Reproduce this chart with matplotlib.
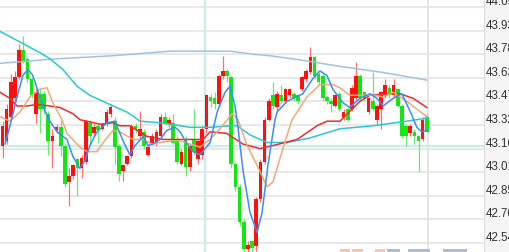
import matplotlib
matplotlib.use("Agg")
import matplotlib.pyplot as plt
import matplotlib.transforms as mtrans
from matplotlib.patches import Rectangle

# candle data (price)
opens = [43.18, 43.21, 43.37, 43.49, 43.63, 43.81, 43.75, 43.62, 43.39, 43.52,
         43.52, 43.39, 43.21, 43.28, 43.30, 43.18, 42.94, 42.98, 43.09, 43.03,
         43.07, 43.33, 43.26, 43.31, 43.29, 43.32, 43.39, 43.34, 43.18, 43.01,
         43.06, 43.11, 43.31, 43.24, 43.27, 43.12, 43.20, 43.20, 43.24, 43.37,
         43.32, 43.33, 43.22, 43.06, 43.22, 43.04, 43.22, 43.09, 43.12, 43.29,
         43.50, 43.49, 43.45, 43.64, 43.67, 43.63, 43.06, 42.91, 42.68, 42.50,
         42.55, 42.52, 42.83, 43.07, 43.35, 43.51, 43.43, 43.51, 43.47, 43.51,
         43.52, 43.51, 43.55, 43.62, 43.66, 43.76, 43.65, 43.64, 43.50, 43.47,
         43.44, 43.52, 43.37, 43.42, 43.42, 43.49, 43.64, 43.53, 43.40, 43.47,
         43.35, 43.42, 43.51, 43.56, 43.51, 43.55, 43.44, 43.31, 43.26, 43.27,
         43.24, 43.22, 43.37]
closes = [43.31, 43.42, 43.60, 43.63, 43.81, 43.73, 43.62, 43.51, 43.53, 43.42,
          43.42, 43.21, 43.24, 43.30, 43.18, 42.93, 42.98, 43.05, 43.03, 43.10,
          43.34, 43.24, 43.30, 43.28, 43.32, 43.40, 43.43, 43.17, 42.99, 43.05,
          43.11, 43.31, 43.28, 43.29, 43.18, 43.17, 43.24, 43.27, 43.37, 43.33,
          43.35, 43.20, 43.07, 43.14, 43.04, 43.18, 43.14, 43.21, 43.29, 43.51,
          43.47, 43.45, 43.64, 43.67, 43.64, 43.06, 42.91, 42.68, 42.50, 42.53,
          42.51, 42.83, 43.07, 43.35, 43.47, 43.44, 43.52, 43.47, 43.55, 43.55,
          43.49, 43.47, 43.63, 43.67, 43.76, 43.64, 43.60, 43.49, 43.47, 43.45,
          43.51, 43.42, 43.40, 43.35, 43.56, 43.64, 43.49, 43.49, 43.49, 43.42,
          43.44, 43.53, 43.58, 43.51, 43.58, 43.44, 43.24, 43.24, 43.31, 43.24,
          43.21, 43.35, 43.27]
highs = [43.34, 43.45, 43.65, 43.67, 43.85, 43.90, 43.76, 43.63, 43.56, 43.55,
         43.54, 43.41, 43.29, 43.32, 43.35, 43.19, 43.03, 43.06, 43.10, 43.12,
         43.35, 43.35, 43.32, 43.33, 43.33, 43.42, 43.45, 43.37, 43.19, 43.06,
         43.12, 43.32, 43.33, 43.41, 43.29, 43.19, 43.26, 43.29, 43.39, 43.40,
         43.37, 43.39, 43.24, 43.16, 43.24, 43.19, 43.42, 43.22, 43.31, 43.52,
         43.52, 43.53, 43.65, 43.77, 43.68, 43.64, 43.07, 42.93, 42.70, 42.55,
         42.56, 42.84, 43.09, 43.37, 43.49, 43.60, 43.54, 43.58, 43.56, 43.56,
         43.53, 43.52, 43.64, 43.68, 43.83, 43.77, 43.66, 43.65, 43.51, 43.49,
         43.52, 43.53, 43.42, 43.43, 43.58, 43.73, 43.65, 43.54, 43.50, 43.66,
         43.45, 43.54, 43.62, 43.58, 43.62, 43.56, 43.45, 43.32, 43.32, 43.29,
         43.25, 43.37, 43.39]
lows = [43.10, 43.19, 43.35, 43.45, 43.62, 43.72, 43.60, 43.49, 43.33, 43.26,
        43.39, 43.12, 43.03, 43.26, 43.11, 42.91, 42.78, 42.96, 42.85, 42.97,
        43.06, 43.19, 43.24, 43.20, 43.28, 43.31, 43.37, 43.06, 42.95, 42.95,
        43.05, 43.10, 43.26, 43.22, 43.16, 43.11, 43.19, 43.18, 43.23, 43.32,
        43.30, 43.19, 43.06, 43.05, 42.98, 43.01, 43.12, 43.06, 43.09, 43.26,
        43.43, 43.42, 43.43, 43.62, 43.60, 43.03, 42.88, 42.65, 42.48, 42.48,
        42.48, 42.49, 42.81, 43.06, 43.34, 43.42, 43.41, 43.45, 43.46, 43.49,
        43.47, 43.45, 43.54, 43.60, 43.65, 43.62, 43.58, 43.47, 43.45, 43.40,
        43.43, 43.41, 43.35, 43.34, 43.41, 43.47, 43.47, 43.47, 43.39, 43.41,
        43.32, 43.29, 43.49, 43.49, 43.49, 43.43, 43.23, 43.18, 43.24, 43.19,
        43.01, 43.21, 43.26]

# moving average lines, read at candle positions
ma5_x = [0.6, 1.8, 3.5, 4.9, 6.1, 7.3, 8.5, 9.7, 11.4, 13.1, 15.5, 16.9, 18.6, 19.8,
         21.0, 22.7, 25.1, 27.0, 29.0, 30.6, 31.9, 33.8, 35.0, 36.2, 37.9, 39.5,
         41.5, 42.7, 44.4, 45.8, 47.5, 49.9, 51.6, 53.5, 54.7, 55.9, 56.6, 57.8,
         59.5, 61.2, 62.4, 63.8, 65.5, 66.0, 68.4, 72.2, 74.6, 76.3, 78.0, 79.4,
         81.9, 83.5, 85.9, 88.3, 90.0, 91.5, 93.9, 96.0, 98.4, 99.6, 100.8, 102.0]
ma5_y = [43.19, 43.31, 43.50, 43.64, 43.68, 43.64, 43.54, 43.44, 43.34, 43.27, 43.22,
         43.11, 43.03, 43.08, 43.18, 43.27, 43.33, 43.34, 43.21, 43.12, 43.18, 43.24,
         43.18, 43.19, 43.22, 43.28, 43.30, 43.27, 43.19, 43.14, 43.12, 43.20, 43.40,
         43.53, 43.57, 43.44, 43.30, 43.02, 42.74, 42.61, 42.74, 43.05, 43.35, 43.40,
         43.47, 43.52, 43.62, 43.67, 43.64, 43.55, 43.46, 43.43, 43.49, 43.52, 43.49,
         43.44, 43.49, 43.52, 43.38, 43.30, 43.27, 43.28]
ma10_x = [-0.6, 1.8, 4.2, 6.6, 9.0, 10.7, 12.1, 14.3, 15.5, 18.6, 20.3, 22.7, 24.2,
          26.6, 28.2, 31.4, 33.8, 35.9, 37.9, 40.3, 42.7, 45.1, 47.5, 49.9, 52.3,
          55.2, 56.6, 58.8, 61.2, 63.6, 65.0, 67.4, 69.6, 73.2, 76.3, 79.4, 81.1,
          83.5, 89.1, 91.5, 93.9, 97.2, 99.6, 102.0]
ma10_y = [43.37, 43.34, 43.40, 43.50, 43.55, 43.56, 43.46, 43.35, 43.26, 43.17, 43.14,
          43.14, 43.20, 43.28, 43.27, 43.22, 43.22, 43.19, 43.20, 43.21, 43.21, 43.19,
          43.17, 43.22, 43.29, 43.39, 43.35, 43.18, 43.05, 42.91, 42.94, 43.16, 43.35,
          43.50, 43.58, 43.58, 43.56, 43.51, 43.51, 43.50, 43.53, 43.47, 43.42, 43.37]
ma20_x = [-0.6, 1.8, 3.5, 5.9, 8.3, 11.4, 13.8, 16.9, 18.6, 20.3, 23.4, 26.6, 28.2,
          30.6, 34.7, 38.6, 42.7, 48.2, 49.9, 53.9, 57.8, 61.9, 65.0, 70.8, 75.6,
          78.0, 81.1, 85.9, 88.3, 93.2, 95.6, 98.7, 102.0]
ma20_y = [43.53, 43.49, 43.44, 43.44, 43.45, 43.44, 43.43, 43.39, 43.35, 43.34, 43.32,
          43.33, 43.31, 43.31, 43.24, 43.22, 43.22, 43.22, 43.27, 43.26, 43.19, 43.16,
          43.18, 43.22, 43.31, 43.34, 43.34, 43.47, 43.51, 43.52, 43.52, 43.49, 43.43]
ma30_x = [-0.6, 4.2, 9.0, 11.4, 14.5, 17.9, 21.0, 25.8, 29.9, 33.1, 37.9, 40.3, 45.1,
          49.9, 54.7, 56.4, 59.5, 63.6, 68.4, 73.9, 78.7, 81.1, 89.1, 97.2, 102.0]
ma30_y = [43.93, 43.86, 43.79, 43.75, 43.68, 43.57, 43.51, 43.45, 43.40, 43.34, 43.33,
          43.32, 43.30, 43.30, 43.31, 43.31, 43.25, 43.20, 43.20, 43.23, 43.27, 43.29,
          43.31, 43.34, 43.36]
ma60_x = [-0.6, 13.1, 26.6, 40.3, 48.2, 54.7, 60.2, 64.3, 72.2, 81.1, 91.5, 102.0]
ma60_y = [43.72, 43.75, 43.77, 43.80, 43.80, 43.80, 43.78, 43.77, 43.74, 43.70, 43.66,
          43.61]

ticks = [42.54, 42.695, 42.85, 43.005, 43.16, 43.315, 43.47, 43.625, 43.78, 43.935, 44.09]
tick_labels = ["42.54", "42.70", "42.85", "43.01", "43.16", "43.32", "43.47",
               "43.63", "43.78", "43.93", "44.09"]
prev_close = 43.18
day_split = 48.7
last_bar = 102.3

fig = plt.figure(figsize=(5.1, 2.53), dpi=100)
ax = fig.add_axes([0, 0, 484 / 510, 1])
ax.set_xlim(-0.601, 115.745)
ax.set_ylim(42.481, 44.1425)
ax.axis("off")

for t in ticks:
    ax.axhline(t, color="#e9e9e9", lw=1.5, zorder=0)
ax.axvline(last_bar, color="#e2e2e2", lw=1.2, zorder=0)
ax.axvline(day_split, color="#c9ecec", lw=1.6, zorder=0.5)
ax.axhline(prev_close, color="#c9ecec", lw=1.6, zorder=0.5)

up_body, dn_body = "#ff1010", "#14e614"
up_wick, dn_wick = "#ff7070", "#70e870"
for i in range(len(opens)):
    o, c, h, l = opens[i], closes[i], highs[i], lows[i]
    up = c >= o
    ax.vlines(i, l, h, color=up_wick if up else dn_wick, lw=0.9, zorder=2)
    ax.bar(i, max(abs(c - o), 0.006), bottom=min(o, c), width=0.88,
           color=up_body if up else dn_body, lw=0, zorder=3)

ax.plot(ma60_x, ma60_y, color="#9fc5dd", lw=1.1, zorder=4)
ax.plot(ma30_x, ma30_y, color="#27c9d2", lw=1.1, zorder=4)
ax.plot(ma20_x, ma20_y, color="#ee2b2b", lw=1.1, zorder=4)
ax.plot(ma10_x, ma10_y, color="#f0a878", lw=1.1, zorder=4)
ax.plot(ma5_x, ma5_y, color="#3a8ef5", lw=1.1, zorder=4)

# right price panel
ax2 = fig.add_axes([484 / 510, 0, 26 / 510, 1])
ax2.set_ylim(42.481, 44.1425)
ax2.set_xlim(0, 1)
ax2.set_facecolor("#f5f5f5")
ax2.set_xticks([])
ax2.set_yticks([])
for s in ["top", "right", "bottom"]:
    ax2.spines[s].set_visible(False)
ax2.spines["left"].set_color("#dddddd")
tr = mtrans.offset_copy(mtrans.blended_transform_factory(ax2.transAxes, ax2.transData),
                        fig=fig, x=0, y=3, units="dots")
for t, lab in zip(ticks, tick_labels):
    ax2.text(0.08, t, lab, transform=tr, va="baseline", ha="left",
             fontsize=8.3, family="Liberation Sans", color="#333333", clip_on=False)

# bits of the strip below, cut off at the bottom edge
strip = [(340, 10, "#f7c4b4"), (352, 11, "#f7c4b4"), (375, 10, "#f7c4b4"),
         (387, 13, "#aebccb"), (408, 22, "#aebccb"), (443, 24, "#aebccb")]
for x0, w, col in strip:
    fig.patches.append(Rectangle((x0 / 510, 0), w / 510, 3 / 253,
                                 transform=fig.transFigure, color=col, lw=0))

fig.savefig("out.png", dpi=100)
